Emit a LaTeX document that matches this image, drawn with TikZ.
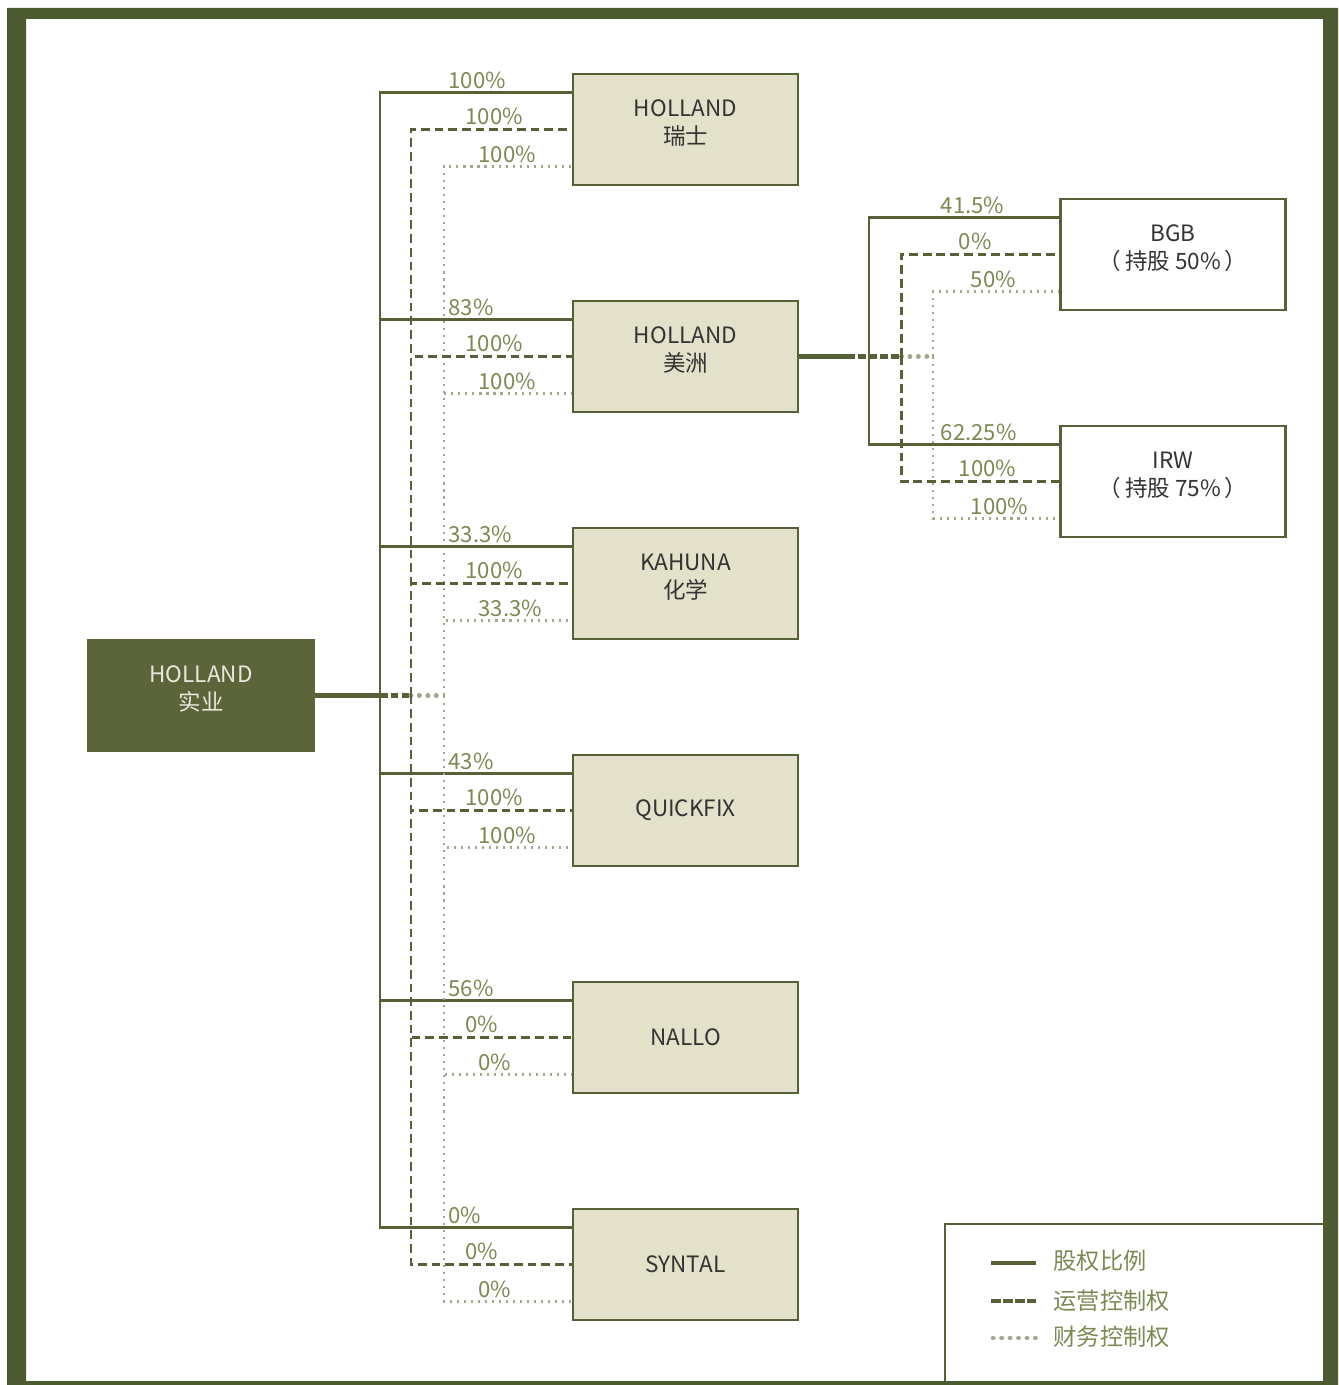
\documentclass[tikz,border=0pt]{standalone}
\usepackage{fontspec}
\setmainfont{Noto Sans CJK SC}
\usetikzlibrary{positioning,calc}
\definecolor{olivefr}{RGB}{78,90,47}
\definecolor{oliveln}{RGB}{86,97,56}
\definecolor{rootfill}{RGB}{92,100,57}
\definecolor{boxfill}{RGB}{227,225,201}
\definecolor{lblcol}{RGB}{123,138,82}
\definecolor{dotcol}{RGB}{165,166,144}
\definecolor{ink}{RGB}{51,51,51}
\newcommand\boxfont{\fontsize{6.4}{8}\selectfont}
\newcommand\lblfont{\fontsize{6.3}{7.5}\selectfont}
\tikzset{
  sub/.style={draw=oliveln, fill=boxfill, line width=0.7pt, minimum width=2.25cm,
    minimum height=1.11cm, align=center, font=\boxfont, text=ink, inner sep=0pt},
  twoline/.style={text depth=4pt},
  sub2/.style={sub, twoline, fill=white},
  root/.style={sub, twoline, fill=rootfill, draw=rootfill, text={rgb,255:red,232;green,232;blue,222}},
  own/.style={draw=oliveln, line width=0.6pt},
  oper/.style={draw=oliveln, line width=0.7pt, dash pattern=on 2.5pt off 1.4pt},
  fin/.style={draw=dotcol, line width=0.6pt, dash pattern=on 0.6pt off 1.4pt},
  ownthick/.style={draw=oliveln, line width=1.4pt},
  operthick/.style={draw=oliveln, line width=1.4pt, dash pattern=on 2.2pt off 0.9pt},
  finthick/.style={draw=dotcol, line width=1.3pt, line cap=round, dash pattern=on 0.1pt off 2.3pt},
  lbl/.style={anchor=base west, font=\lblfont, text=lblcol, inner sep=0pt},
  legtxt/.style={anchor=west, font=\fontsize{6.6}{8}\selectfont, text=lblcol, inner sep=0pt},
}
\begin{document}
\begin{tikzpicture}[x=0.01cm, y=-0.01cm]
  \useasboundingbox[fill=white] (0,0) rectangle (1338,1385);
  % holding company and its three buses
  \node[root] (hq) at (201,695.5) {HOLLAND\\实业};
  \coordinate (hS) at ($(hq.east)+(65,0)$);
  \coordinate (hD) at ($(hq.east)+(96,0)$);
  \coordinate (hF) at ($(hq.east)+(129,0)$);
  \draw[ownthick] (hq.east) -- (hS);
  \draw[operthick] (hS) -- (hD);
  \draw[finthick] (hD) -- (hF);
  % subsidiaries
  \foreach \n/\s/\t [count=\i] in {sw/twoline/{HOLLAND\\瑞士},am/twoline/{HOLLAND\\美洲},
      ka/twoline/{KAHUNA\\化学},qf//QUICKFIX,na//NALLO,sy//SYNTAL}
    \node[sub,\s] (\n) at (685.5,{129.5+227*(\i-1)}) {\t};
  \foreach \n/\a/\b/\c in {sw/100/100/100,am/83/100/100,ka/33.3/100/33.3,
      qf/43/100/100,na/56/0/0,sy/0/0/0}{
    \draw[own] (hS) |- ($(\n.west)+(0,-37)$);
    \draw[oper] (hD) |- (\n.west);
    \draw[fin] (hF) |- ($(\n.west)+(0,37)$);
    \node[lbl] (\n-o) at ($(\n.west)+(-124,-41)$) {\a\%};
    \node[lbl] (\n-p) at ($(\n.west)+(-107,-5)$) {\b\%};
    \node[lbl] (\n-f) at ($(\n.west)+(-94,33)$) {\c\%};
  }
  % second level under HOLLAND americas
  \node[sub2] (bgb) at (1173,254.5) {BGB\\（\,持股 50\%\,）};
  \node[sub2] (irw) at (1173,481.5) {IRW\\（\,持股 75\%\,）};
  \coordinate (aJ) at ($(am.east)+(48,0)$);
  \coordinate (aS) at ($(am.east)+(70,0)$);
  \coordinate (aD) at ($(am.east)+(102,0)$);
  \coordinate (aF) at ($(am.east)+(134,0)$);
  \draw[ownthick] (am.east) -- (aJ);
  \draw[operthick] (aJ) -- (aD);
  \draw[finthick] (aD) -- (aF);
  \foreach \n/\a/\b/\c in {bgb/41.5/0/50,irw/62.25/100/100}{
    \draw[own] (aS) |- ($(\n.west)+(0,-37)$);
    \draw[oper] (aD) |- (\n.west);
    \draw[fin] (aF) |- ($(\n.west)+(0,37)$);
    \node[lbl] (\n-o) at ($(\n.west)+(-119,-41)$) {\a\%};
    \node[lbl] (\n-p) at ($(\n.west)+(-101,-5)$) {\b\%};
    \node[lbl] (\n-f) at ($(\n.west)+(-89,33)$) {\c\%};
  }
  % legend
  \draw[draw=oliveln, line width=0.6pt] (945,1400) |- (1330,1224);
  \node[legtxt] (lg1) at (1053,1261) {股权比例};
  \node[legtxt] (lg2) at (1053,1301) {运营控制权};
  \node[legtxt] (lg3) at (1053,1337) {财务控制权};
  \draw[ownthick] ($(lg1.west)+(-62,2)$) -- ($(lg1.west)+(-17,2)$);
  \draw[operthick, dash pattern=on 2.8pt off 0.6pt] ($(lg2.west)+(-62,0)$) -- ($(lg2.west)+(-17,0)$);
  \draw[finthick] ($(lg3.west)+(-60,1)$) -- ($(lg3.west)+(-17,1)$);
  % frame
  \fill[olivefr, even odd rule] (7,8) rectangle (1338,1385) (26,19) rectangle (1323,1381);
\end{tikzpicture}
\end{document}
